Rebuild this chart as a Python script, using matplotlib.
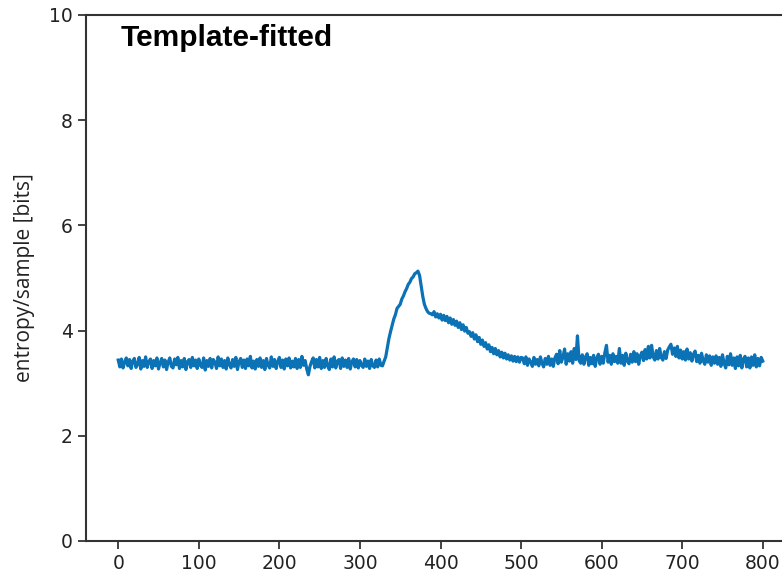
import numpy as np
import matplotlib
matplotlib.use("Agg")
import matplotlib.pyplot as plt

# x positions (samples, step 2)
x_start, x_stop, x_step = 0, 800, 2

baseline = [
    3.44,3.31,3.46,3.29,3.40,3.48,3.33,3.45,3.28,3.42,
    3.47,3.30,3.36,3.49,3.27,3.43,3.32,3.50,3.30,3.41,
    3.46,3.28,3.43,3.33,3.48,3.27,3.39,3.47,3.31,3.44,
    3.26,3.40,3.48,3.32,3.29,3.46,3.35,3.49,3.28,3.43,
    3.31,3.47,3.26,3.41,3.45,3.30,3.49,3.33,3.44,3.28,
    3.46,3.34,3.30,3.48,3.25,3.43,3.32,3.47,3.29,3.45,
    3.40,3.28,3.50,3.33,3.46,3.30,3.43,3.27,3.48,3.35,
    3.29,3.45,3.32,3.49,3.26,3.41,3.47,3.30,3.44,3.28,
    3.46,3.33,3.51,3.29,3.42,3.27,3.45,3.32,3.48,3.30,
    3.43,3.26,3.47,3.34,3.29,3.50,3.32,3.45,3.28,3.41,
    3.49,3.30,3.44,3.27,3.46,3.33,3.48,3.29,3.42,3.31,
    3.47,3.28,3.45,3.30,3.51,3.34,3.43,3.27,3.16,3.32,
    3.41,3.48,3.29,3.45,3.31,3.49,3.28,3.43,3.30,3.47,
    3.33,3.26,3.46,3.31,3.50,3.29,3.42,3.45,3.28,3.48,
    3.32,3.44,3.30,3.47,3.27,3.41,3.46,3.31,3.45,3.29,
    3.43,3.34,3.30,3.46,3.32,3.42,3.28,3.45,3.33,3.30,
    3.44,3.31,3.46,3.34,3.33,3.42,
]

rise_peak = [
    3.50,3.68,3.85,3.98,4.10,4.22,4.30,4.42,4.46,4.50,
    4.60,4.66,4.74,4.80,4.88,4.92,4.99,5.02,5.08,5.10,
    5.13,5.05,4.85,4.65,4.50,4.42,4.36,4.33,4.32,
]

decay = [
    4.30,4.36,4.26,4.32,4.24,4.31,4.20,4.29,4.19,4.27,
    4.15,4.24,4.12,4.21,4.10,4.18,4.06,4.15,4.02,4.11,
    3.99,4.06,3.95,3.98,3.89,3.96,3.84,3.92,3.79,3.87,
    3.74,3.82,3.70,3.77,3.65,3.73,3.60,3.68,3.56,3.66,
    3.54,3.62,3.50,3.59,3.48,3.57,3.46,3.54,3.44,3.52,
    3.42,3.51,3.41,3.50,3.40,3.49,
]

tail = [
    3.48,3.37,3.50,3.34,3.46,3.40,3.32,3.49,3.36,3.45,
    3.33,3.50,3.38,3.31,3.47,3.36,3.51,3.34,3.46,3.32,
    3.48,3.55,3.37,3.62,3.40,3.50,3.65,3.36,3.56,3.42,
    3.60,3.38,3.66,3.45,3.90,3.43,3.38,3.54,3.36,3.50,
    3.56,3.34,3.49,3.37,3.53,3.32,3.48,3.55,3.36,3.51,
    3.38,3.58,3.72,3.40,3.53,3.36,3.56,3.41,3.51,3.38,
    3.66,3.38,3.53,3.34,3.57,3.42,3.37,3.55,3.40,3.60,
    3.41,3.56,3.36,3.52,3.59,3.43,3.64,3.46,3.70,3.48,
    3.72,3.50,3.44,3.62,3.46,3.66,3.49,3.44,3.60,3.47,
    3.63,3.69,3.74,3.55,3.67,3.51,3.70,3.48,3.63,3.46,
    3.60,3.44,3.65,3.46,3.58,3.42,3.55,3.61,3.41,3.53,
    3.38,3.57,3.43,3.36,3.54,3.40,3.52,3.34,3.50,3.38,
    3.52,3.36,3.49,3.32,3.54,3.38,3.29,3.51,3.35,3.56,
    3.34,3.48,3.28,3.50,3.33,3.53,3.29,3.46,3.51,3.31,
    3.48,3.29,3.50,3.34,3.54,3.31,3.47,3.33,3.49,3.42,
]

entropy = np.array(baseline + rise_peak + decay + tail)
x = np.arange(x_start, x_stop + 1, x_step)

xticks = [0, 100, 200, 300, 400, 500, 600, 700, 800]
yticks = [0, 2, 4, 6, 8, 10]
title = "Template-fitted"
ylabel = "entropy/sample [bits]"

fig = plt.figure(figsize=(7.82, 5.76), dpi=100)
ax = fig.add_axes([86/782, 35/576, 709/782, 526/576])
ax.plot(x, entropy, color="#0a72b5", lw=2.3)
ax.set_xlim(-40, 840)
ax.set_ylim(0, 10)
ax.set_xticks(xticks)
ax.set_yticks(yticks)
ax.tick_params(labelsize=13.5, length=6, width=1.2, color="#222222", labelcolor="#222222")
for s in ax.spines.values():
    s.set_linewidth(1.5)
    s.set_color("#333333")
ax.set_ylabel(ylabel, fontsize=15, family="Open Sans", color="#222222", labelpad=10)
ax.text(0.049, 0.956, title, transform=ax.transAxes, ha="left", va="center",
        fontsize=21.5, fontweight="bold", family="Liberation Sans")
fig.savefig("out.png", dpi=100)
